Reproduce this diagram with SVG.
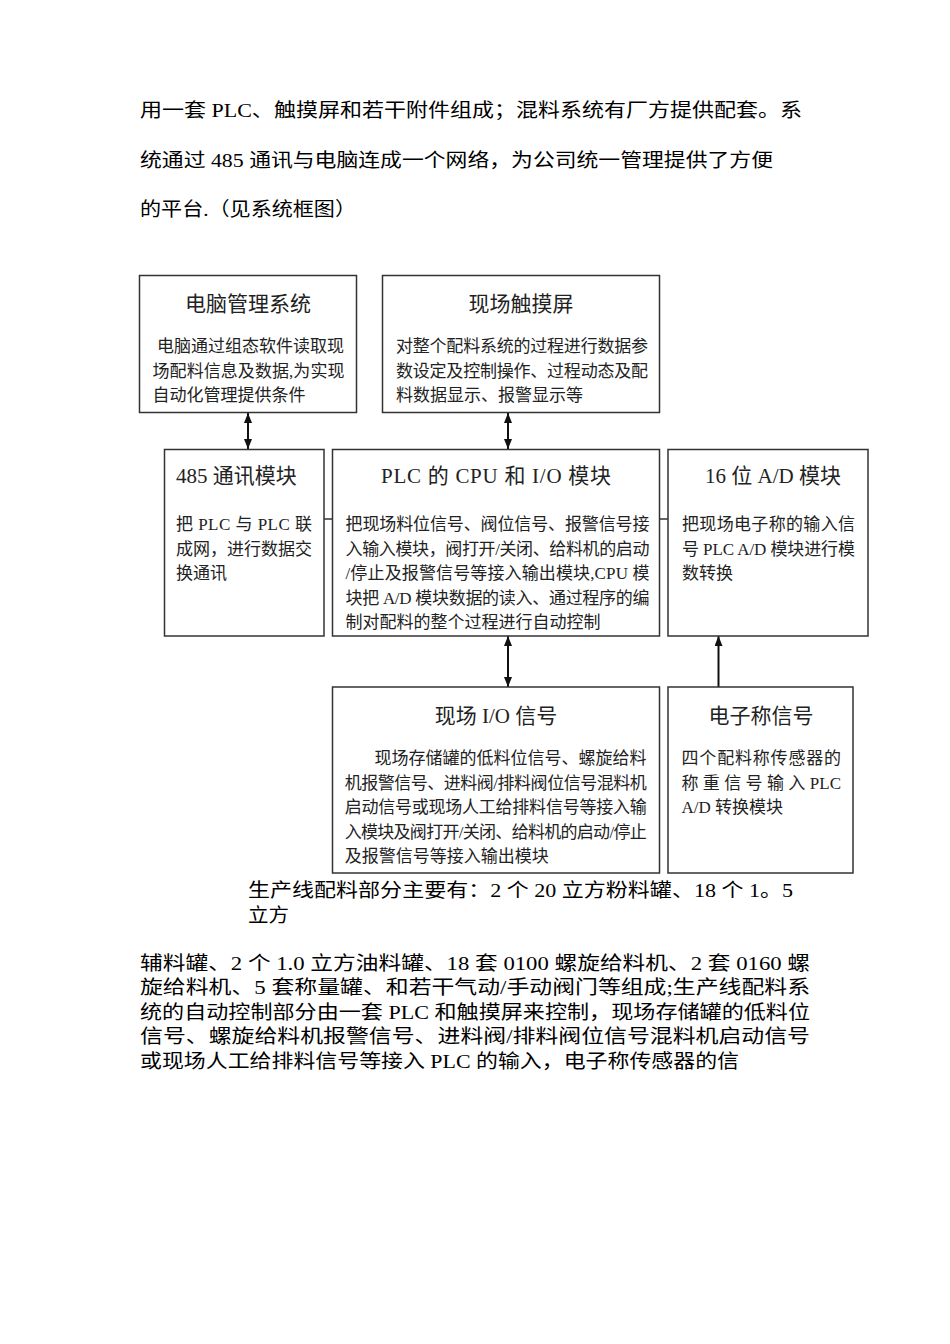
<svg xmlns="http://www.w3.org/2000/svg" width="950" height="1344" viewBox="0 0 950 1344">
<style>
.bg{fill:#ffffff}
.box{fill:#ffffff;stroke:#333333;stroke-width:1.5}
.p{font-family:"Liberation Serif","Noto Sans CJK SC",serif;font-size:19px;fill:#000000}
.t{font-family:"Liberation Serif","Noto Sans CJK SC",serif;font-size:21px;fill:#222222}
.tc{text-anchor:middle}
.b{font-family:"Liberation Serif","Noto Sans CJK SC",serif;font-size:17px;fill:#222222}
.con{stroke:#111111;stroke-width:2;fill:none}
.tick{stroke:#333333;stroke-width:1.5;fill:none}
</style>
<defs>
<marker id="ah" viewBox="0 0 10 8" refX="10" refY="4" markerWidth="10" markerHeight="8" markerUnits="userSpaceOnUse" orient="auto-start-reverse">
<path d="M0,0 L10,4 L0,8 z" fill="#111111"/>
</marker>
</defs>
<rect class="bg" x="0" y="0" width="950" height="1344"/>

<g id="para-top">
<text class="p" x="140" y="117" textLength="662" lengthAdjust="spacingAndGlyphs">用一套 PLC、触摸屏和若干附件组成；混料系统有厂方提供配套。系</text>
<text class="p" x="140" y="167" textLength="633" lengthAdjust="spacingAndGlyphs">统通过 485 通讯与电脑连成一个网络，为公司统一管理提供了方便</text>
<text class="p" x="140" y="216" textLength="216" lengthAdjust="spacingAndGlyphs">的平台.（见系统框图）</text>
</g>

<g id="connectors">
<line class="con" x1="248" y1="413" x2="248" y2="449" marker-start="url(#ah)" marker-end="url(#ah)"/>
<line class="con" x1="508" y1="413" x2="508" y2="449" marker-start="url(#ah)" marker-end="url(#ah)"/>
<line class="con" x1="508" y1="636" x2="508" y2="687" marker-start="url(#ah)" marker-end="url(#ah)"/>
<line class="con" x1="718.5" y1="687" x2="718.5" y2="636" marker-end="url(#ah)"/>
<line class="tick" x1="324" y1="519" x2="332.5" y2="519"/>
<line class="tick" x1="659.5" y1="519" x2="668" y2="519"/>
</g>

<g id="node-pc">
<rect class="box" x="139.5" y="275.5" width="217" height="137"/>
<text class="t tc" x="248" y="311">电脑管理系统</text>
<text class="b" x="157" y="352" textLength="187" lengthAdjust="spacing">电脑通过组态软件读取现</text>
<text class="b" x="152.5" y="377" textLength="192" lengthAdjust="spacing">场配料信息及数据,为实现</text>
<text class="b" x="152.5" y="401">自动化管理提供条件</text>
</g>

<g id="node-touch">
<rect class="box" x="382.5" y="275.5" width="277" height="137"/>
<text class="t tc" x="521" y="311">现场触摸屏</text>
<text class="b" x="396" y="352" textLength="252" lengthAdjust="spacing">对整个配料系统的过程进行数据参</text>
<text class="b" x="396" y="377" textLength="252" lengthAdjust="spacing">数设定及控制操作、过程动态及配</text>
<text class="b" x="396" y="401">料数据显示、报警显示等</text>
</g>

<g id="node-485">
<rect class="box" x="164.5" y="449.5" width="159.5" height="186.5"/>
<text class="t" x="176" y="483">485 通讯模块</text>
<text class="b" x="176" y="530" textLength="136" lengthAdjust="spacing">把 PLC 与 PLC 联</text>
<text class="b" x="176" y="554.5" textLength="136" lengthAdjust="spacing">成网，进行数据交</text>
<text class="b" x="176" y="579">换通讯</text>
</g>

<g id="node-plc">
<rect class="box" x="332.5" y="449.5" width="327" height="186.5"/>
<text class="t tc" x="496" y="483" textLength="230" lengthAdjust="spacing">PLC 的 CPU 和 I/O 模块</text>
<text class="b" x="345.5" y="530" textLength="304" lengthAdjust="spacing">把现场料位信号、阀位信号、报警信号接</text>
<text class="b" x="345.5" y="554.5" textLength="304" lengthAdjust="spacing">入输入模块，阀打开/关闭、给料机的启动</text>
<text class="b" x="345.5" y="579" textLength="304" lengthAdjust="spacing">/停止及报警信号等接入输出模块,CPU 模</text>
<text class="b" x="345.5" y="603.5" textLength="304" lengthAdjust="spacing">块把 A/D 模块数据的读入、通过程序的编</text>
<text class="b" x="345.5" y="628">制对配料的整个过程进行自动控制</text>
</g>

<g id="node-ad">
<rect class="box" x="668" y="449.5" width="200" height="186.5"/>
<text class="t" x="705" y="483">16 位 A/D 模块</text>
<text class="b" x="682" y="530" textLength="173" lengthAdjust="spacing">把现场电子称的输入信</text>
<text class="b" x="682" y="554.5" textLength="173" lengthAdjust="spacing">号 PLC A/D 模块进行模</text>
<text class="b" x="682" y="579">数转换</text>
</g>

<g id="node-io">
<rect class="box" x="332.5" y="687" width="327" height="186"/>
<text class="t tc" x="496" y="723">现场 I/O 信号</text>
<text class="b" x="374.5" y="764" textLength="272" lengthAdjust="spacing">现场存储罐的低料位信号、螺旋给料</text>
<text class="b" x="344.7" y="788.5" textLength="302" lengthAdjust="spacing">机报警信号、进料阀/排料阀位信号混料机</text>
<text class="b" x="344.7" y="813" textLength="302" lengthAdjust="spacing">启动信号或现场人工给排料信号等接入输</text>
<text class="b" x="344.7" y="837.5" textLength="302" lengthAdjust="spacing">入模块及阀打开/关闭、给料机的启动/停止</text>
<text class="b" x="344.7" y="862">及报警信号等接入输出模块</text>
</g>

<g id="node-scale">
<rect class="box" x="668" y="687" width="185" height="186"/>
<text class="t tc" x="761" y="723">电子称信号</text>
<text class="b" x="681.5" y="764" textLength="159.5" lengthAdjust="spacing">四个配料称传感器的</text>
<text class="b" x="681.5" y="788.5" textLength="159.5" lengthAdjust="spacing">称 重 信 号 输 入 PLC</text>
<text class="b" x="681.5" y="813">A/D 转换模块</text>
</g>

<g id="para-bottom">
<text class="p" x="248" y="897" textLength="545" lengthAdjust="spacingAndGlyphs">生产线配料部分主要有：2 个 20 立方粉料罐、18 个 1。5</text>
<text class="p" x="248" y="922" textLength="41" lengthAdjust="spacingAndGlyphs">立方</text>
<text class="p" x="140" y="969.5" textLength="670" lengthAdjust="spacingAndGlyphs">辅料罐、2 个 1.0 立方油料罐、18 套 0100 螺旋给料机、2 套 0160 螺</text>
<text class="p" x="140" y="994" textLength="670" lengthAdjust="spacingAndGlyphs">旋给料机、5 套称量罐、和若干气动/手动阀门等组成;生产线配料系</text>
<text class="p" x="140" y="1018.5" textLength="670" lengthAdjust="spacingAndGlyphs">统的自动控制部分由一套 PLC 和触摸屏来控制，现场存储罐的低料位</text>
<text class="p" x="140" y="1043" textLength="670" lengthAdjust="spacingAndGlyphs">信号、螺旋给料机报警信号、进料阀/排料阀位信号混料机启动信号</text>
<text class="p" x="140" y="1067.5" textLength="599" lengthAdjust="spacingAndGlyphs">或现场人工给排料信号等接入 PLC 的输入，电子称传感器的信</text>
</g>
</svg>
